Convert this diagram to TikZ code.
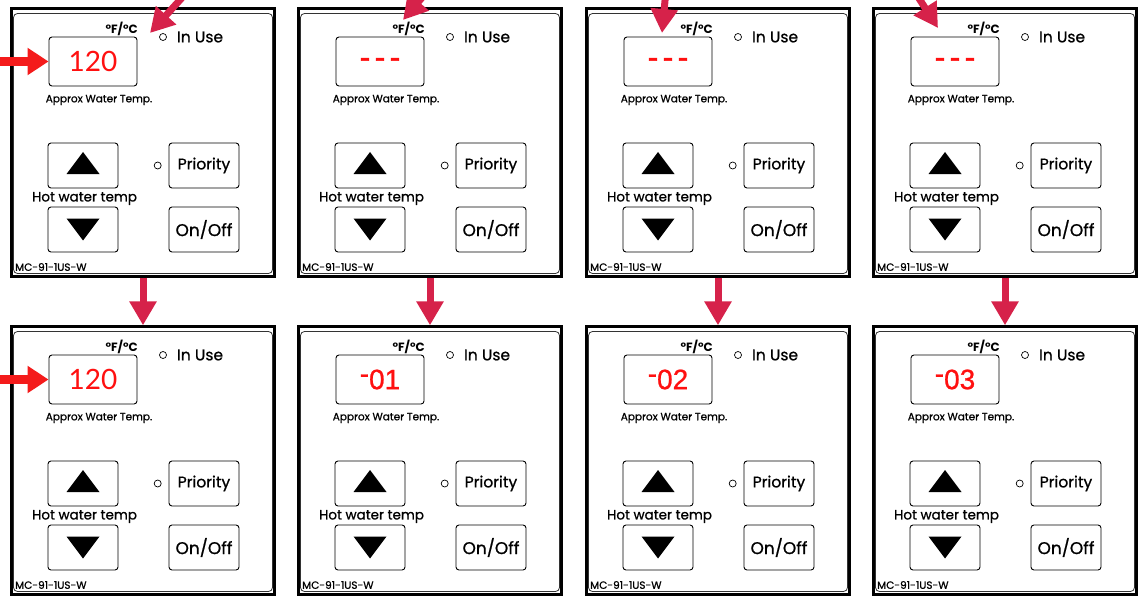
\documentclass[tikz,border=0pt]{standalone}
\usepackage{fontspec}
\setmainfont{Poppins}[UprightFeatures={FakeBold=0.9}]
\newfontfamily\latofont{Lato}
\newfontfamily\arialfont{Liberation Sans}[UprightFeatures={FakeBold=0.8}]
\newfontfamily\dejafont{DejaVu Sans}[BoldFeatures={FakeBold=2.5}]
\usetikzlibrary{positioning,arrows.meta}
\definecolor{crimson}{HTML}{D6224A}
\definecolor{pointred}{HTML}{F41B1B}
\definecolor{ledred}{HTML}{FF1010}
\newcommand\dispnum[1]{{\latofont\fontsize{28}{30}\selectfont #1}}
\newcommand\dispoff{{\dejafont\bfseries\fontsize{20}{22}\selectfont –\hspace{5pt}–\hspace{5pt}–}}
\newcommand\disperr[1]{{\arialfont\fontsize{28}{30}\selectfont\raisebox{6pt}{-}#1}}
\tikzset{
  panel/.style={draw=black,line width=2.4pt,minimum width=263pt,minimum height=268pt,inner sep=0pt},
  face/.style={draw=black!80,line width=0.8pt,rounded corners=4pt,minimum width=259pt,minimum height=260pt,inner sep=0pt},
  disp/.style={draw,rounded corners=3pt,line width=0.9pt,minimum width=88pt,minimum height=49pt,
    text=ledred,inner sep=0pt},
  btn/.style={draw,rounded corners=3pt,line width=0.9pt,minimum width=70pt,minimum height=45pt,
    inner sep=0pt,font=\fontsize{15.5}{17}\selectfont},
  lamp/.style={circle,draw,line width=0.7pt,minimum size=7pt,inner sep=0pt},
  big/.style={inner sep=0pt,font=\fontsize{15.5}{17}\selectfont},
  mid/.style={inner sep=0pt,font=\fontsize{13.5}{15}\selectfont},
  note/.style={inner sep=0pt,font=\fontsize{10.5}{11}\selectfont},
  unitlbl/.style={inner sep=0pt,font=\bfseries\fontsize{12}{13}\selectfont},
  model/.style={inner sep=0pt,font=\fontsize{10.5}{11}\selectfont},
  fl/.style={-{Triangle[length=24pt,width=26pt]},draw=crimson,fill=crimson,line width=7pt},
  pt/.style={-{Triangle[length=21pt,width=26pt]},draw=pointred,fill=pointred,line width=9pt},
}
\begin{document}
\begin{tikzpicture}[x=1pt,y=-1pt]
  \useasboundingbox (0,0) rectangle (1143,599);
  \clip (0,0) rectangle (1143,599);
  % eight control panels, top row then bottom row
  \foreach \n/\px/\py/\val in {1/10/7/{\dispnum{120}},2/297/7/{\dispoff},3/585/7/{\dispoff},4/872/7/{\dispoff},
      5/10/325/{\dispnum{120}},6/297/325/{\disperr{01}},7/585/325/{\disperr{02}},8/872/325/{\disperr{03}}}{
    \begin{scope}[shift={(\px,\py)}]
      \node[panel] (pan\n) at (133,135.5) {};
      \node[face] (face\n) at (133,136.5) {};
      \node[disp] (disp\n) at (83,54.5) {\val};
      \node[unitlbl,anchor=east] (unit\n) at (128,22) {°F/°C};
      \node[lamp] (use\n) at (153,30) {};
      \node[big,right=10pt of use\n] (usel\n) {In Use};
      \node[note] (appr\n) at (89,93) {Approx Water Temp.};
      \node[btn] (up\n) at (73,158.5) {};
      \node[btn] (dn\n) at (73,222.5) {};
      \node[mid] (hot\n) at (74.5,191.5) {Hot water temp};
      \node[btn] (pri\n) at (194,158.5) {Priority};
      \node[btn,font=\fontsize{17}{18}\selectfont] (onf\n) at (194,222.5) {On/Off};
      \node[lamp,left=7pt of pri\n] (pril\n) {};
      \node[model,anchor=west] (mod\n) at (5,260) {MC-91-1US-W};
      \fill ([shift={(0,-13.5)}]up\n.center) -- ++(16.5,22) -- ++(-33,0) -- cycle;
      \fill ([shift={(-16.5,-11)}]dn\n.center) -- ++(33,0) -- ++(-16.5,22) -- cycle;
    \end{scope}
  }
  % pointers
  \coordinate (in1) at (-10,61.5);
  \coordinate (in5) at (-10,379.5);
  \draw[pt] (in1) -- (disp1.west);
  \draw[pt] (in5) -- (disp5.west);
  \coordinate (t1) at (189,-10);   \coordinate (h1) at (150,33);
  \coordinate (t2) at (428.5,-10); \coordinate (h2) at (403,20);
  \coordinate (t3) at (666,-10);   \coordinate (h3) at (662,33);
  \coordinate (t4) at (913.6,-10); \coordinate (h4) at (938,28);
  \foreach \k in {1,...,4} \draw[fl] (t\k) -- (h\k);
  \foreach \a/\b in {1/5,2/6,3/7,4/8} \draw[fl] (pan\a.south) -- (pan\b.north);
\end{tikzpicture}
\end{document}
